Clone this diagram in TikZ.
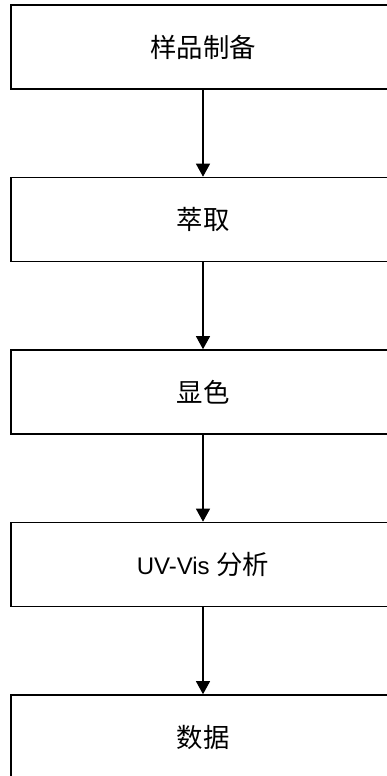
\documentclass[tikz,border=0pt]{standalone}
\usepackage{fontspec}
\setmainfont{Liberation Sans}
\newfontfamily\cjk[Scale=1.1]{Noto Sans CJK SC}
\usetikzlibrary{arrows.meta, positioning}
\tikzstyle{stage} = [rectangle, minimum width=384pt, minimum height=84pt, text centered, draw=black, line width=1.6pt, font=\fontsize{24}{28}\selectfont]
\tikzstyle{arrow} = [line width=1.2pt, -{Triangle[length=13pt,width=14pt]}]

\begin{document}
\begin{tikzpicture}[x=1pt, y=1pt, node distance=172.5pt]
\useasboundingbox (0,0) rectangle (387,-776);

% Process stages
\node (prep) [stage] at (203,-47) {\cjk 样品制备};
\node (extract) [stage, below of=prep] {\cjk 萃取};
\node (color) [stage, below of=extract] {\cjk 显色};
\node (uvvis) [stage, below of=color] {UV-Vis {\cjk 分析}};
\node (data) [stage, below of=uvvis] {\cjk 数据};

% Flow
\draw [arrow] (prep) -- (extract);
\draw [arrow] (extract) -- (color);
\draw [arrow] (color) -- (uvvis);
\draw [arrow] (uvvis) -- (data);

\end{tikzpicture}
\end{document}
